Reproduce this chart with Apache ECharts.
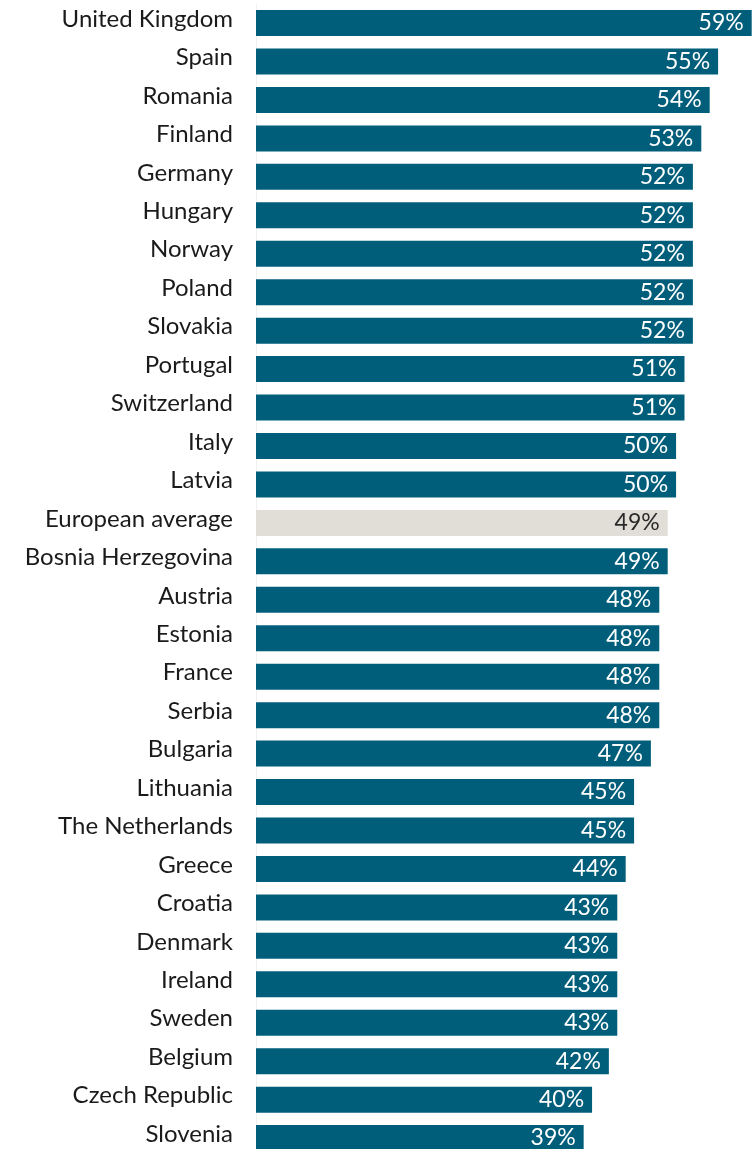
<!DOCTYPE html>
<html>
<head>
<meta charset="utf-8">
<script src="https://cdn.jsdelivr.net/npm/echarts@6/dist/echarts.min.js"></script>
<style>
  html, body { margin: 0; padding: 0; background: #ffffff; overflow: hidden; }
  /* the last row runs slightly past the bottom edge of the page */
  #chart { width: 756px; height: 1158px; }
</style>
</head>
<body>
<div id="chart"></div>
<script>
// Countries, top to bottom
const countries = [
  'United Kingdom', 'Spain', 'Romania', 'Finland', 'Germany', 'Hungary',
  'Norway', 'Poland', 'Slovakia', 'Portugal', 'Switzerland', 'Italy',
  'Latvia', 'European average', 'Bosnia Herzegovina', 'Austria', 'Estonia',
  'France', 'Serbia', 'Bulgaria', 'Lithuania', 'The Netherlands', 'Greece',
  'Croatia', 'Denmark', 'Ireland', 'Sweden', 'Belgium', 'Czech Republic',
  'Slovenia'
];

// Share in percent, same order
const shares = [
  59, 55, 54, 53, 52, 52,
  52, 52, 52, 51, 51, 50,
  50, 49, 49, 48, 48,
  48, 48, 47, 45, 45, 44,
  43, 43, 43, 43, 42, 40,
  39
];

const averageLabel = 'European average';

const BAR_COLOR = '#005e7b';
const AVG_COLOR = '#e1ded8';
const FONT = 'Lato, "Noto Sans", sans-serif';

const chart = echarts.init(document.getElementById('chart'), null, { renderer: 'canvas' });

const barData = countries.map((name, i) => {
  const isAvg = name === averageLabel;
  return {
    value: shares[i],
    itemStyle: { color: isAvg ? AVG_COLOR : BAR_COLOR },
    label: { color: isAvg ? '#2a2a2a' : '#ffffff' }
  };
});

chart.setOption({
  animation: false,
  backgroundColor: '#ffffff',
  grid: { left: 256, right: 4.3, top: 3.8, bottom: 0.7, containLabel: false },
  xAxis: {
    type: 'value',
    min: 0,
    max: 59,
    show: false
  },
  yAxis: {
    type: 'category',
    data: countries,
    inverse: true,
    axisLine: { show: true, lineStyle: { color: '#f0f0f0', width: 1 } },
    axisTick: { show: false },
    axisLabel: {
      margin: 23,
      formatter: v => '{name|' + v + '}',
      rich: {
        // country names sit a little above the bar centre line
        name: {
          fontFamily: FONT,
          fontSize: 24,
          color: '#1a1a1a',
          padding: [0, 0, 8, 0]
        }
      }
    }
  },
  series: [{
    type: 'bar',
    data: barData,
    barWidth: 26,
    label: {
      show: true,
      position: 'insideRight',
      distance: 8,
      fontFamily: FONT,
      fontSize: 23,
      formatter: p => p.value + '%'
    }
  }]
});
</script>
</body>
</html>
